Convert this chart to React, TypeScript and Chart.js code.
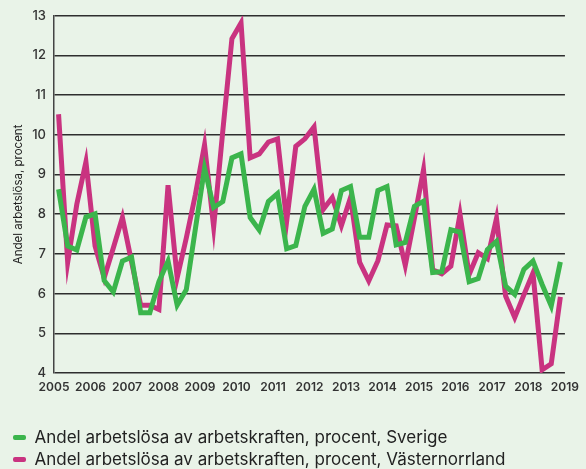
import React, { useEffect, useRef } from "react";
import { Chart, registerables } from "chart.js";

Chart.register(...registerables);

const startYear = 2005;
const endYear = 2019;
const yTicks = [4, 5, 6, 7, 8, 9, 10, 11, 12, 13];
const yTitle = "Andel arbetslösa, procent";
const labelSverige = "Andel arbetslösa av arbetskraften, procent, Sverige";
const labelVaster = "Andel arbetslösa av arbetskraften, procent, Västernorrland";

// Quarterly values 2005 Q1 .. 2018 Q4
const sverige = [
  8.63, 7.2, 7.1, 7.93, 8.01, 6.33, 6.04, 6.82, 6.92, 5.52, 5.52, 6.3, 6.82, 5.71,
  6.1, 7.64, 9.16, 8.17, 8.32, 9.42, 9.52, 7.92, 7.6, 8.32, 8.52, 7.13, 7.21, 8.2,
  8.63, 7.52, 7.63, 8.6, 8.7, 7.42, 7.42, 8.6, 8.7, 7.23, 7.29, 8.2, 8.33, 6.53,
  6.55, 7.61, 7.55, 6.3, 6.38, 7.11, 7.32, 6.19, 5.98, 6.61, 6.82, 6.23, 5.69, 6.8,
];
const vasternorrland = [
  10.52, 6.79, 8.25, 9.32, 7.2, 6.4, 7.15, 7.92, 6.8, 5.71, 5.71, 5.6, 8.73, 6.4,
  7.4, 8.5, 9.75, 7.68, 10.1, 12.42, 12.82, 9.42, 9.52, 9.82, 9.9, 7.82, 9.71, 9.9,
  10.2, 8.12, 8.42, 7.71, 8.42, 6.79, 6.32, 6.83, 7.73, 7.71, 6.71, 7.9, 9.12, 6.6,
  6.5, 6.69, 8.0, 6.48, 7.03, 6.88, 7.9, 5.94, 5.4, 5.97, 6.52, 4.08, 4.23, 5.92,
];

const BG = "#e9f3e8";
const GREEN = "#3bb54c";
const PINK = "#c93380";
const FONT = "Inter, 'Noto Sans', 'DejaVu Sans', sans-serif";

const toPoints = (vals: number[]) =>
  vals.map((v, i) => ({ x: startYear + (i + 0.5) / 4, y: v }));

export default function App() {
  const ref = useRef<HTMLCanvasElement | null>(null);

  useEffect(() => {
    document.body.style.margin = "0";
    document.body.style.background = BG;
    const canvas = ref.current;
    if (!canvas) return;
    const chart = new Chart(canvas, {
      type: "line",
      data: {
        datasets: [
          {
            label: labelSverige,
            data: toPoints(sverige),
            borderColor: GREEN,
            backgroundColor: GREEN,
            borderWidth: 5,
            pointRadius: 0,
            tension: 0,
            borderJoinStyle: "miter",
          },
          {
            label: labelVaster,
            data: toPoints(vasternorrland),
            borderColor: PINK,
            backgroundColor: PINK,
            borderWidth: 5,
            pointRadius: 0,
            tension: 0,
            borderJoinStyle: "miter",
          },
        ],
      },
      options: {
        animation: false,
        responsive: false,
        maintainAspectRatio: false,
        layout: { padding: { top: 12, right: 18, left: 8, bottom: -9 } },
        plugins: {
          tooltip: { enabled: false },
          legend: {
            position: "bottom",
            align: "start",
            labels: {
              color: "#222",
              font: { family: FONT, size: 17 },
              boxWidth: 13,
              boxHeight: 5,
              padding: 5,
              useBorderRadius: true,
              borderRadius: 2,
              generateLabels: (c: any) =>
                c.data.datasets.map((d: any, i: number) => ({
                  text: d.label,
                  fillStyle: d.borderColor,
                  strokeStyle: d.borderColor,
                  lineWidth: 0,
                  hidden: false,
                  datasetIndex: i,
                  fontColor: "#222",
                  borderRadius: 2,
                })),
            },
          },
        },
        scales: {
          x: {
            type: "linear",
            min: startYear,
            max: endYear,
            grid: { display: false, drawTicks: false },
            border: { display: false },
            afterBuildTicks: (s: any) => {
              const t = [];
              for (let y = startYear; y <= endYear; y++) t.push({ value: y });
              s.ticks = t;
            },
            afterFit: (s: any) => {
              s.height = 51;
            },
            ticks: {
              autoSkip: false,
              maxRotation: 0,
              padding: 7,
              color: "#333",
              font: { family: FONT, size: 12, weight: "600" },
              callback: (v: any) => String(v),
            },
          },
          y: {
            min: 4,
            max: 13,
            afterBuildTicks: (s: any) => {
              s.ticks = yTicks.map((v) => ({ value: v }));
            },
            afterFit: (s: any) => {
              s.width = 46;
            },
            grid: { color: "#2e2e2e", lineWidth: 1.5, drawTicks: false },
            border: { display: true, color: "#444", width: 1.5 },
            title: {
              display: true,
              text: yTitle,
              color: "#222",
              font: { family: FONT, size: 11.5 },
              padding: { top: 4, bottom: 2 },
            },
            ticks: {
              color: "#333",
              padding: 8,
              font: { family: FONT, size: 13, weight: "500" },
              callback: (v: any) => String(v),
            },
          },
        },
      },
    } as any);
    return () => chart.destroy();
  }, []);

  return (
    <div style={{ width: 586, height: 469, background: BG }}>
      <canvas ref={ref} width={586} height={469} style={{ display: "block" }} />
    </div>
  );
}
